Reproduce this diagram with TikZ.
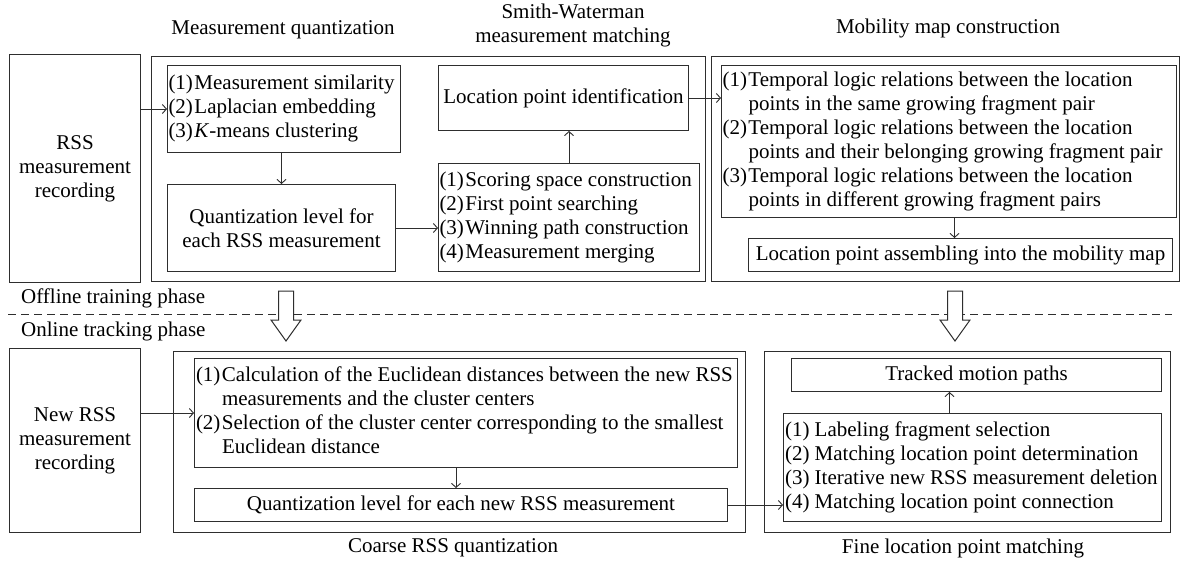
\documentclass[tikz,border=0pt]{standalone}
\usepackage{fontspec}
\setmainfont{Liberation Serif}
\usetikzlibrary{arrows.meta,calc}
\newcommand{\fs}{\fontsize{21}{24}\selectfont}
\newcommand{\nm}[1]{(#1)\hspace{1.5pt}}
\newcommand{\nms}[1]{(#1)\ }
\newcommand{\nc}{\hspace*{26pt}}
\newcommand{\lbox}[2]{\makebox[#1][l]{\begin{tabular}{@{}l@{}}#2\end{tabular}}}
\definecolor{ln}{HTML}{2E2E2E}
\tikzset{
  box/.style={draw=ln, line width=1pt, inner sep=0pt, anchor=north west, font=\fs, align=center},
  outerbox/.style={draw=ln, line width=1.1pt, inner sep=0pt, anchor=north west},
  arr/.style={draw=ln, line width=0.9pt, -{Straight Barb[length=4pt,width=9pt]}},
  title/.style={font=\fs, align=center, inner sep=0pt},
  hollow/.style={draw=ln, line width=1pt, fill=white, line join=miter},
  phase/.style={draw=ln, line width=1pt, dash pattern=on 8pt off 5pt}
}
\begin{document}
\begin{tikzpicture}[x=1pt,y=-1pt]
\useasboundingbox (0,0) rectangle (1181,565);
\fill[white] (0,0) rectangle (1181,565);

% titles
\node[title] (t1) at (283,30) {Measurement quantization};
\node[title] (t2) at (573,25) {Smith-Waterman\\measurement matching};
\node[title] (t3) at (948,28) {Mobility map construction};
\node[title] (t4) at (453,548) {Coarse RSS quantization};
\node[title] (t5) at (963,548) {Fine location point matching};
\node[title, anchor=west] (p1) at (21,298) {Offline training phase};
\node[title, anchor=west] (p2) at (21,331) {Online tracking phase};

% top row
\node[box, minimum width=131, minimum height=228] (rss) at (9,54) {RSS\\measurement\\recording};
\node[outerbox, minimum width=554, minimum height=225] (mqOuter) at (151,56) {};
\node[box, minimum width=233, minimum height=87] (mqList) at (167,65)
  {\lbox{231pt}{\nm{1}Measurement similarity\\ \nm{2}Laplacian embedding\\ \nm{3}\textit{K}-means clustering}};
\node[box, minimum width=228, minimum height=87] (quant) at (167,184) {Quantization level for\\each RSS measurement};
\node[box, minimum width=250, minimum height=65] (locId) at (438,65) {Location point identification};
\node[box, minimum width=261, minimum height=108] (swList) at (438,163)
  {\lbox{259pt}{\nm{1}Scoring space construction\\ \nm{2}First point searching\\ \nm{3}Winning path construction\\ \nm{4}Measurement merging}};
\node[outerbox, minimum width=468, minimum height=225] (mobOuter) at (711,56) {};
\node[box, minimum width=455, minimum height=152] (mobList) at (721,65)
  {\lbox{453pt}{\nm{1}Temporal logic relations between the location\\ \nc points in the same growing fragment pair\\ \nm{2}Temporal logic relations between the location\\ \nc points and their belonging growing fragment pair\\ \nm{3}Temporal logic relations between the location\\ \nc points in different growing fragment pairs}};
\node[box, minimum width=424, minimum height=33] (assemble) at (748,238) {Location point assembling into the mobility map};

% phase separator and hollow arrows
\draw[phase] (8,314) -- (1172,314);
\draw[hollow] (278.5,291) -- (293.5,291) -- (293.5,320) -- (301,320) -- (286,341) -- (271,320) -- (278.5,320) -- cycle;
\draw[hollow] (947.5,291) -- (962.5,291) -- (962.5,320) -- (970,320) -- (955,341) -- (940,320) -- (947.5,320) -- cycle;

% bottom row
\node[box, minimum width=131, minimum height=184] (newrss) at (9,348) {New RSS\\measurement\\recording};
\node[outerbox, minimum width=572, minimum height=181] (coarseOuter) at (173,351) {};
\node[box, minimum width=543, minimum height=109] (coarseList) at (194,358)
  {\lbox{540pt}{\nm{1}Calculation of the Euclidean distances between the new RSS\\ \nc measurements and the cluster centers\\ \nm{2}Selection of the cluster center corresponding to the smallest\\ \nc Euclidean distance}};
\node[box, minimum width=533, minimum height=33] (quantNew) at (194,488) {Quantization level for each new RSS measurement};
\node[outerbox, minimum width=406, minimum height=181] (fineOuter) at (764,351) {};
\node[box, minimum width=370, minimum height=33] (tracked) at (791,358) {Tracked motion paths};
\node[box, minimum width=378, minimum height=108] (fineList) at (783,413)
  {\lbox{375pt}{\nms{1}Labeling fragment selection\\ \nms{2}Matching location point determination\\ \nms{3}Iterative new RSS measurement deletion\\ \nms{4}Matching location point connection}};

% connectors
\draw[arr] (rss.east |- mqList.west) -- (mqList.west);
\draw[arr] (quant.north |- mqList.south) -- (quant.north);
\draw[arr] (quant.east) -- (quant.east -| swList.west);
\draw[arr] (swList.north) -- (swList.north |- locId.south);
\draw[arr] (locId.east) -- (locId.east -| mobList.west);
\coordinate (m1) at ($(mobList.south)+(5.5,0)$);
\draw[arr] (m1) -- (m1 |- assemble.north);
\draw[arr] (newrss.east |- coarseList.west) -- (coarseList.west);
\coordinate (c1) at ($(coarseList.south)+(-10,0)$);
\draw[arr] (c1) -- (c1 |- quantNew.north);
\draw[arr] (quantNew.east) -- (quantNew.east -| fineList.west);
\coordinate (f1) at ($(fineList.north)+(-23,0)$);
\draw[arr] (f1) -- (f1 |- tracked.south);
\end{tikzpicture}
\end{document}
